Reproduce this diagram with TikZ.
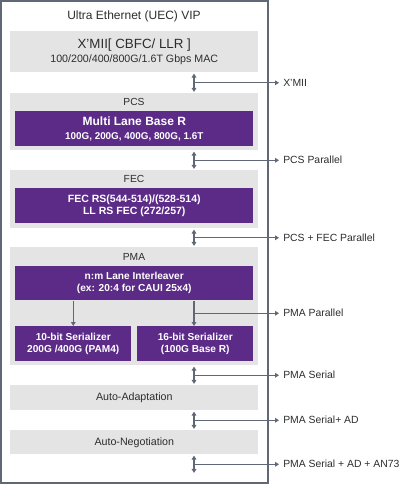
\documentclass[tikz,border=0pt]{standalone}
\usepackage{fontspec}
\setmainfont{Liberation Sans}
\usetikzlibrary{arrows.meta,calc}

\definecolor{vipline}{RGB}{96,104,120}
\definecolor{vipgrey}{RGB}{228,228,228}
\definecolor{vippurple}{RGB}{92,43,135}
\definecolor{viptext}{RGB}{45,45,45}

\tikzset{
  layer/.style={fill=vipgrey, anchor=north west, inner sep=0pt, minimum width=186pt, text=viptext, align=center},
  head/.style={text=viptext, inner sep=0pt, font=\fontsize{7.7}{9}\selectfont},
  block/.style={fill=vippurple, text=white, anchor=north west, inner sep=0pt, align=center,
    minimum width=178.5pt, minimum height=26.25pt, font=\bfseries\fontsize{7.6}{9}\selectfont},
  tag/.style={anchor=west, inner sep=3pt, text=viptext, font=\fontsize{7.8}{9}\selectfont},
  link/.style={draw=vipline, line width=0.8pt, shorten <=0.8pt, shorten >=0.8pt,
    {Triangle[length=3pt,width=3.5pt]}-{Triangle[length=3pt,width=3.5pt]}},
  tap/.style={draw=vipline, line width=0.8pt, -{Triangle[length=3pt,width=3.5pt]}},
}

\begin{document}
\begin{tikzpicture}[x=0.75pt,y=-0.75pt]
\useasboundingbox (0,0) rectangle (400,485);

% outer frame
\draw[vipline, line width=1.5pt] (1,1) rectangle (268,483);
\node[text=viptext, font=\fontsize{9}{11}\selectfont] (title) at (134,16) {Ultra Ethernet (UEC) VIP};

% MAC
\node[layer, minimum height=30.75pt, font=\fontsize{8}{10}\selectfont] (xmii) at (10,31)
  {{\fontsize{10}{12}\selectfont X'MII[ CBFC/ LLR ]}\\[1pt]100/200/400/800G/1.6T Gbps MAC};

% PCS
\node[layer, minimum height=42.75pt] (pcs) at (10,93) {};
\node[head] (pcshead) at (134,102) {PCS};
\node[block, font=\bfseries\fontsize{7.4}{10}\selectfont] (pcsblk) at (15,111)
  {{\fontsize{9}{11}\selectfont Multi Lane Base R}\\100G, 200G, 400G, 800G, 1.6T};

% FEC
\node[layer, minimum height=43.5pt] (fec) at (10,170) {};
\node[head] (fechead) at (134,179) {FEC};
\node[block, font=\bfseries\fontsize{7.9}{9}\selectfont] (fecblk) at (15,188)
  {FEC RS(544-514)/(528-514)\\LL RS FEC (272/257)};

% PMA
\node[layer, minimum height=88.5pt] (pma) at (10,247) {};
\node[head] (pmahead) at (134,257) {PMA};
\node[block, minimum height=25.5pt] (inter) at (15,266)
  {n:m Lane Interleaver\\(ex: 20:4 for CAUI 25x4)};
\node[block, minimum width=87pt] (ser10) at (15,326) {10-bit Serializer\\200G /400G (PAM4)};
\node[block, minimum width=87pt] (ser16) at (137,326) {16-bit Serializer\\(100G Base R)};

% AD / AN
\node[layer, minimum height=18.75pt, font=\fontsize{8}{10}\selectfont] (autoad) at (10,385) {Auto-Adaptation};
\node[layer, minimum height=18pt, font=\fontsize{8}{10}\selectfont] (autoneg) at (10,430) {Auto-Negotiation};

\coordinate (col) at (194,0);
\coordinate (edge) at (279,0);
\coordinate (floor) at (194,474);

% links between layers
\draw[link] (xmii.south -| col) -- (pcs.north -| col);
\draw[link] (pcs.south -| col) -- (fec.north -| col);
\draw[link] (fec.south -| col) -- (pma.north -| col);
\draw[link] (pma.south -| col) -- (autoad.north -| col);
\draw[link] (autoad.south -| col) -- (autoneg.north -| col);
\draw[link] (autoneg.south -| col) -- (floor);
\draw[tap] (inter.south -| ser10.north) -- (ser10.north);
\draw[tap] (inter.south -| col) -- (ser16.north -| col);

\coordinate (m1) at ($(xmii.south -| col)!0.5!(pcs.north -| col)$);
\coordinate (m2) at ($(pcs.south -| col)!0.5!(fec.north -| col)$);
\coordinate (m3) at ($(fec.south -| col)!0.5!(pma.north -| col)$);
\coordinate (m4) at ($(inter.south -| col)!0.5!(ser16.north -| col)$);
\coordinate (m5) at ($(pma.south -| col)!0.5!(autoad.north -| col)$);
\coordinate (m6) at ($(autoad.south -| col)!0.5!(autoneg.north -| col)$);
\coordinate (m7) at ($(autoneg.south -| col)!0.5!(floor)$);

% interface taps
\node[tag] (t1) at (m1 -| edge) {X'MII};
\node[tag] (t2) at (m2 -| edge) {PCS Parallel};
\node[tag] (t3) at (m3 -| edge) {PCS + FEC Parallel};
\node[tag] (t4) at (m4 -| edge) {PMA Parallel};
\node[tag] (t5) at (m5 -| edge) {PMA Serial};
\node[tag] (t6) at (m6 -| edge) {PMA Serial+ AD};
\node[tag] (t7) at (m7 -| edge) {PMA Serial + AD + AN73};
\draw[tap] (m1) -- (t1.west);
\draw[tap] (m2) -- (t2.west);
\draw[tap] (m3) -- (t3.west);
\draw[tap] (m4) -- (t4.west);
\draw[tap] (m5) -- (t5.west);
\draw[tap] (m6) -- (t6.west);
\draw[tap] (m7) -- (t7.west);

\end{tikzpicture}
\end{document}
